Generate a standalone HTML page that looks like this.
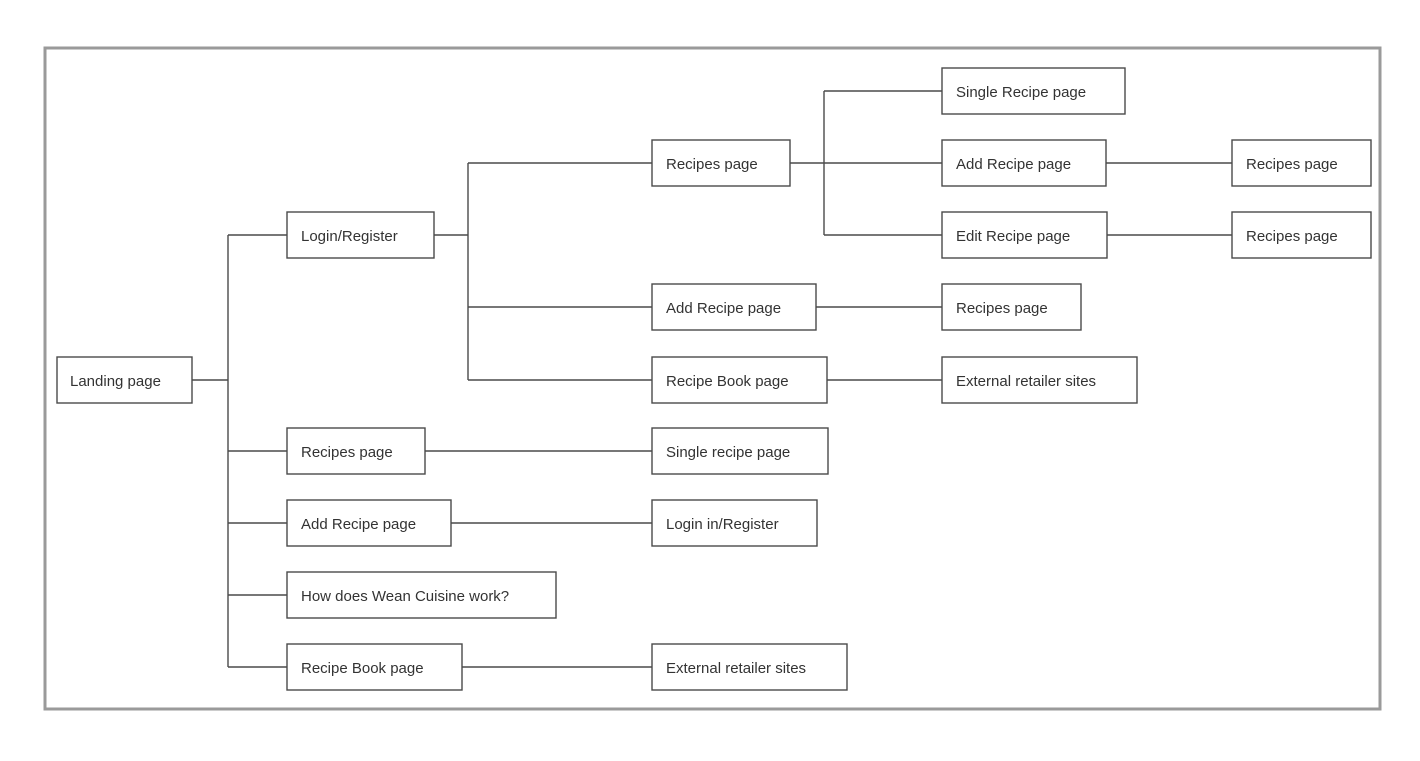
<!DOCTYPE html>
<html><head><style>
html,body{margin:0;padding:0;background:#fff;width:1420px;height:761px;overflow:hidden}
text{font-family:"Liberation Sans",sans-serif;font-size:15px;fill:#333}
</style></head><body>
<svg width="1420" height="761" xmlns="http://www.w3.org/2000/svg">
<rect x="45" y="48" width="1335" height="661" fill="#fff" stroke="#9a9a9a" stroke-width="3"/>
<g stroke="#4a4a4a" stroke-width="1.4" fill="none">
<path d="M192 380H228M228 235V667M228 235H287M228 451H287M228 523H287M228 595H287M228 667H287"/>
<path d="M434 235H468M468 163V380M468 163H652M468 307H652M468 380H652"/>
<path d="M425 451H652M451 523H652M462 667H652"/>
<path d="M790 163H824M824 91V235M824 91H942M824 163H942M824 235H942"/>
<path d="M1106 163H1232M1107 235H1232M816 307H942M827 380H942"/>
</g>
<g stroke="#4a4a4a" stroke-width="1.4" fill="#fff">
<rect x="57" y="357" width="135" height="46"/>
<rect x="287" y="212" width="147" height="46"/>
<rect x="287" y="428" width="138" height="46"/>
<rect x="287" y="500" width="164" height="46"/>
<rect x="287" y="572" width="269" height="46"/>
<rect x="287" y="644" width="175" height="46"/>
<rect x="652" y="140" width="138" height="46"/>
<rect x="652" y="284" width="164" height="46"/>
<rect x="652" y="357" width="175" height="46"/>
<rect x="652" y="428" width="176" height="46"/>
<rect x="652" y="500" width="165" height="46"/>
<rect x="652" y="644" width="195" height="46"/>
<rect x="942" y="68" width="183" height="46"/>
<rect x="942" y="140" width="164" height="46"/>
<rect x="942" y="212" width="165" height="46"/>
<rect x="942" y="284" width="139" height="46"/>
<rect x="942" y="357" width="195" height="46"/>
<rect x="1232" y="140" width="139" height="46"/>
<rect x="1232" y="212" width="139" height="46"/>
</g>
<g>
<text x="70" y="386">Landing page</text>
<text x="301" y="241">Login/Register</text>
<text x="301" y="457">Recipes page</text>
<text x="301" y="529">Add Recipe page</text>
<text x="301" y="601">How does Wean Cuisine work?</text>
<text x="301" y="673">Recipe Book page</text>
<text x="666" y="169">Recipes page</text>
<text x="666" y="313">Add Recipe page</text>
<text x="666" y="386">Recipe Book page</text>
<text x="666" y="457">Single recipe page</text>
<text x="666" y="529">Login in/Register</text>
<text x="666" y="673">External retailer sites</text>
<text x="956" y="97">Single Recipe page</text>
<text x="956" y="169">Add Recipe page</text>
<text x="956" y="241">Edit Recipe page</text>
<text x="956" y="313">Recipes page</text>
<text x="956" y="386">External retailer sites</text>
<text x="1246" y="169">Recipes page</text>
<text x="1246" y="241">Recipes page</text>
</g>
</svg>
</body></html>
